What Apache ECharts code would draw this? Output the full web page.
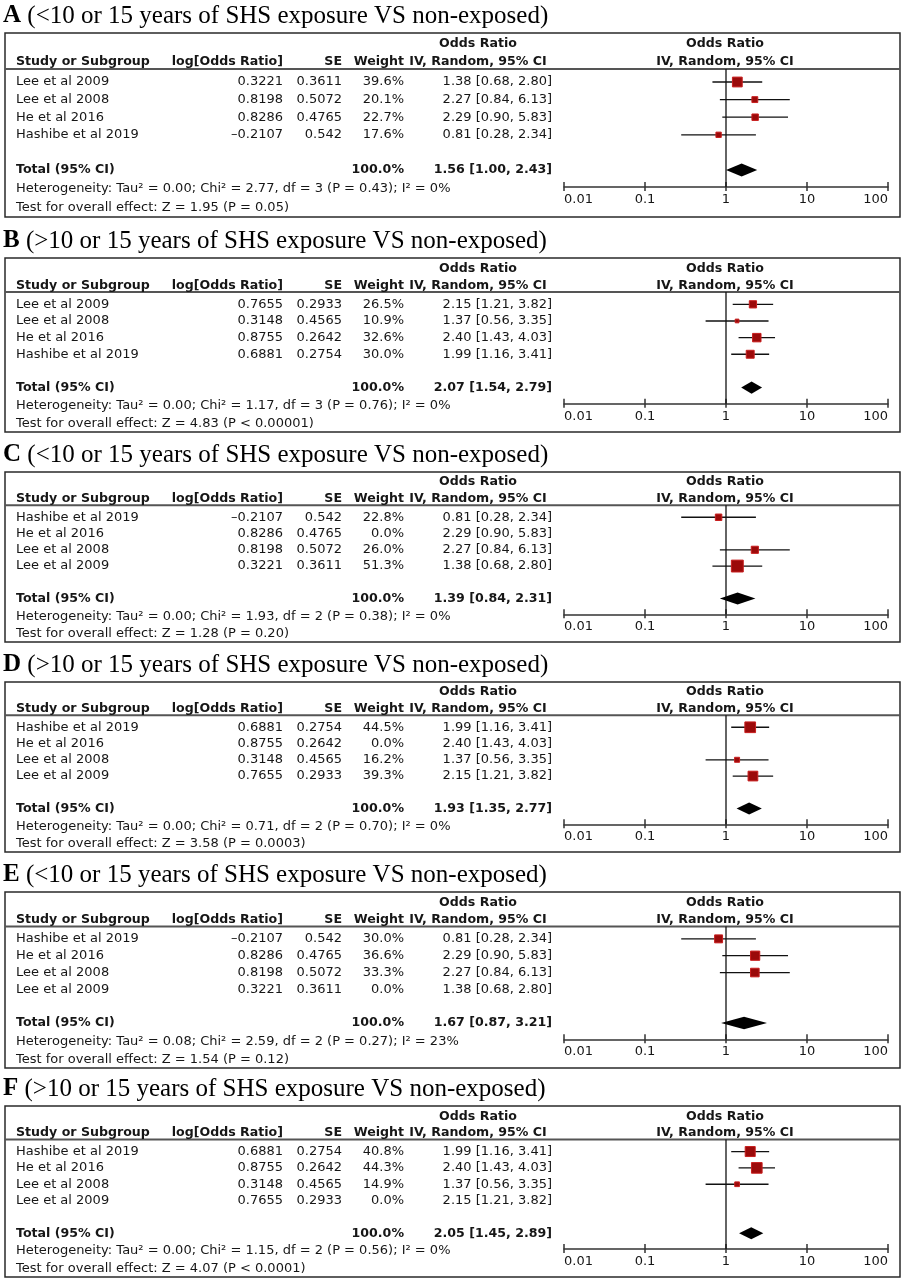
<!DOCTYPE html>
<html><head><meta charset="utf-8">
<script src="https://cdn.jsdelivr.net/npm/echarts@6/dist/echarts.min.js"></script>
<style>html,body{margin:0;padding:0;background:#fff}#c{width:905px;height:1280px}</style>
</head><body><div id="c"></div>
<script>
// ---------- DATA ----------
const panelLetters = ['A','B','C','D','E','F'];
const panelTitles = [
  '(<10 or 15 years of SHS exposure VS non-exposed)',
  '(>10 or 15 years of SHS exposure VS non-exposed)',
  '(<10 or 15 years of SHS exposure VS non-exposed)',
  '(>10 or 15 years of SHS exposure VS non-exposed)',
  '(<10 or 15 years of SHS exposure VS non-exposed)',
  '(>10 or 15 years of SHS exposure VS non-exposed)'
];

const studiesA = ['Lee et al 2009','Lee et al 2008','He et al 2016','Hashibe et al 2019'];
const logOrA = [0.3221, 0.8198, 0.8286, -0.2107];
const seA = [0.3611, 0.5072, 0.4765, 0.542];
const weightA = [39.6, 20.1, 22.7, 17.6];
const orA = [1.38, 2.27, 2.29, 0.81];
const loA = [0.68, 0.84, 0.90, 0.28];
const hiA = [2.80, 6.13, 5.83, 2.34];

const studiesB = ['Lee et al 2009','Lee et al 2008','He et al 2016','Hashibe et al 2019'];
const logOrB = [0.7655, 0.3148, 0.8755, 0.6881];
const seB = [0.2933, 0.4565, 0.2642, 0.2754];
const weightB = [26.5, 10.9, 32.6, 30.0];
const orB = [2.15, 1.37, 2.40, 1.99];
const loB = [1.21, 0.56, 1.43, 1.16];
const hiB = [3.82, 3.35, 4.03, 3.41];

const studiesC = ['Hashibe et al 2019','He et al 2016','Lee et al 2008','Lee et al 2009'];
const logOrC = [-0.2107, 0.8286, 0.8198, 0.3221];
const seC = [0.542, 0.4765, 0.5072, 0.3611];
const weightC = [22.8, 0.0, 26.0, 51.3];
const orC = [0.81, 2.29, 2.27, 1.38];
const loC = [0.28, 0.90, 0.84, 0.68];
const hiC = [2.34, 5.83, 6.13, 2.80];

const studiesD = ['Hashibe et al 2019','He et al 2016','Lee et al 2008','Lee et al 2009'];
const logOrD = [0.6881, 0.8755, 0.3148, 0.7655];
const seD = [0.2754, 0.2642, 0.4565, 0.2933];
const weightD = [44.5, 0.0, 16.2, 39.3];
const orD = [1.99, 2.40, 1.37, 2.15];
const loD = [1.16, 1.43, 0.56, 1.21];
const hiD = [3.41, 4.03, 3.35, 3.82];

const studiesE = ['Hashibe et al 2019','He et al 2016','Lee et al 2008','Lee et al 2009'];
const logOrE = [-0.2107, 0.8286, 0.8198, 0.3221];
const seE = [0.542, 0.4765, 0.5072, 0.3611];
const weightE = [30.0, 36.6, 33.3, 0.0];
const orE = [0.81, 2.29, 2.27, 1.38];
const loE = [0.28, 0.90, 0.84, 0.68];
const hiE = [2.34, 5.83, 6.13, 2.80];

const studiesF = ['Hashibe et al 2019','He et al 2016','Lee et al 2008','Lee et al 2009'];
const logOrF = [0.6881, 0.8755, 0.3148, 0.7655];
const seF = [0.2754, 0.2642, 0.4565, 0.2933];
const weightF = [40.8, 44.3, 14.9, 0.0];
const orF = [1.99, 2.40, 1.37, 2.15];
const loF = [1.16, 1.43, 0.56, 1.21];
const hiF = [3.41, 4.03, 3.35, 3.82];

const totalOr = [1.56, 2.07, 1.39, 1.93, 1.67, 2.05];
const totalLo = [1.00, 1.54, 0.84, 1.35, 0.87, 1.45];
const totalHi = [2.43, 2.79, 2.31, 2.77, 3.21, 2.89];
const tau2 = ['0.00','0.00','0.00','0.00','0.08','0.00'];
const chi2 = ['2.77','1.17','1.93','0.71','2.59','1.15'];
const dfs = ['3','3','2','2','2','2'];
const hetP = ['0.43','0.76','0.38','0.70','0.27','0.56'];
const i2 = ['0%','0%','0%','0%','23%','0%'];
const zVal = ['1.95','4.83','1.28','3.58','1.54','4.07'];
const zP = ['= 0.05','< 0.00001','= 0.20','= 0.0003','= 0.12','< 0.0001'];
const tickLabels = ['0.01','0.1','1','10','100'];

const panels = [
  [studiesA, logOrA, seA, weightA, orA, loA, hiA],
  [studiesB, logOrB, seB, weightB, orB, loB, hiB],
  [studiesC, logOrC, seC, weightC, orC, loC, hiC],
  [studiesD, logOrD, seD, weightD, orD, loD, hiD],
  [studiesE, logOrE, seE, weightE, orE, loE, hiE],
  [studiesF, logOrF, seF, weightF, orF, loF, hiF]
];

// ---------- LAYOUT ----------
const boxTop = [33, 258, 472, 682, 892, 1106];
const boxH = [184, 174, 170, 170, 176, 171];
const L = {orHead: 11, head: 29, rule: 36, row0: 49, pitch: 17.6, axis: 154, het: 156, test: 175, title: -17};
const BOX_L = 5, BOX_R = 900;
const PLOT_L = 564, PLOT_R = 888;
const X = {study: 16, logOr: 283, se: 342, weight: 404, ci: 552, ciHead: 478, plotHead: 725};
const SANS = '"DejaVu Sans", Verdana, sans-serif';
const SERIF = '"Liberation Serif", "Times New Roman", serif';
const TXT = '#161616';
const FS = 13, FSB = 12.6;
const TOTAL_ROW = 5;
const yMin = (L.rule - L.row0) / L.pitch;
const yMax = (L.axis - L.row0) / L.pitch;

const fmtNum = v => String(v).replace('-', '\u2013');
const f2 = v => v.toFixed(2);

const graphics = [];
const grids = [], xAxes = [], yAxes = [], series = [];

function T(text, x, y, align, bold) {
  graphics.push({
    type: 'text', x: x, y: y, silent: true,
    style: {
      text: text, fill: TXT, align: align || 'left', verticalAlign: 'middle',
      font: (bold ? 'bold ' + FSB : FS) + 'px ' + SANS
    }
  });
}

panels.forEach((p, k) => {
  const [studies, logOr, se, weight, or, lo, hi] = p;
  const top = boxTop[k], s = boxH[k] / 184;
  const Y = v => top + v * s;
  const rowY = i => Y(L.row0 + i * L.pitch);

  graphics.push({type: 'rect', silent: true, shape: {x: BOX_L, y: top, width: BOX_R - BOX_L, height: boxH[k]},
    style: {fill: 'transparent', stroke: '#2a2a2a', lineWidth: 1.5}});
  graphics.push({type: 'line', silent: true, shape: {x1: BOX_L, y1: Y(L.rule), x2: BOX_R, y2: Y(L.rule)},
    style: {stroke: '#555', lineWidth: 2}});

  graphics.push({type: 'text', x: 3, y: top + L.title, silent: true,
    style: {text: '{b|' + panelLetters[k] + '} ' + panelTitles[k], verticalAlign: 'middle', fill: '#000',
      font: '25px ' + SERIF,
      rich: {b: {font: 'bold 25px ' + SERIF, fill: '#000'}}}});

  // headers
  T('Odds Ratio', X.ciHead, Y(L.orHead), 'center', true);
  T('Odds Ratio', X.plotHead, Y(L.orHead), 'center', true);
  T('Study or Subgroup', X.study, Y(L.head), 'left', true);
  T('log[Odds Ratio]', X.logOr, Y(L.head), 'right', true);
  T('SE', X.se, Y(L.head), 'right', true);
  T('Weight', X.weight, Y(L.head), 'right', true);
  T('IV, Random, 95% CI', X.ciHead, Y(L.head), 'center', true);
  T('IV, Random, 95% CI', X.plotHead, Y(L.head), 'center', true);

  studies.forEach((st, i) => {
    const y = rowY(i);
    T(st, X.study, y, 'left');
    T(fmtNum(logOr[i]), X.logOr, y, 'right');
    T(String(se[i]), X.se, y, 'right');
    T(weight[i].toFixed(1) + '%', X.weight, y, 'right');
    T(f2(or[i]) + ' [' + f2(lo[i]) + ', ' + f2(hi[i]) + ']', X.ci, y, 'right');
  });
  const ty = rowY(TOTAL_ROW);
  T('Total (95% CI)', X.study, ty, 'left', true);
  T('100.0%', X.weight, ty, 'right', true);
  T(f2(totalOr[k]) + ' [' + f2(totalLo[k]) + ', ' + f2(totalHi[k]) + ']', X.ci, ty, 'right', true);
  T('Heterogeneity: Tau\u00b2 = ' + tau2[k] + '; Chi\u00b2 = ' + chi2[k] + ', df = ' + dfs[k] +
    ' (P = ' + hetP[k] + '); I\u00b2 = ' + i2[k], X.study, Y(L.het), 'left');
  T('Test for overall effect: Z = ' + zVal[k] + ' (P ' + zP[k] + ')', X.study, Y(L.test), 'left');

  // plot grid
  grids.push({left: PLOT_L, width: PLOT_R - PLOT_L, top: Y(L.rule), height: (L.axis - L.rule) * s, containLabel: false});
  const axBase = {
    type: 'log', logBase: 10, gridIndex: k, min: 0.01, max: 100, position: 'bottom',
    splitLine: {show: false}, minorTick: {show: false}
  };
  xAxes.push(Object.assign({}, axBase, {
    axisLine: {show: true, onZero: false, lineStyle: {color: '#333', width: 1.5}},
    axisTick: {show: true, inside: true, length: 5, lineStyle: {color: '#333', width: 1.5}},
    axisLabel: {show: true, margin: 6, color: TXT, fontFamily: SANS, fontSize: FS,
      showMinLabel: true, showMaxLabel: true, alignMinLabel: 'left', alignMaxLabel: 'right',
      formatter: v => { const idx = Math.round(Math.log10(v)) + 2; return tickLabels[idx] || ''; }}
  }));
  xAxes.push(Object.assign({}, axBase, {
    axisLine: {show: false, onZero: false},
    axisTick: {show: true, inside: false, length: 4, lineStyle: {color: '#333', width: 1.5}},
    axisLabel: {show: false}
  }));
  yAxes.push({type: 'value', gridIndex: k, inverse: true, min: yMin, max: yMax, show: false});

  const xi = k * 2;
  // line of no effect
  series.push({
    type: 'custom', xAxisIndex: xi, yAxisIndex: k, silent: true, z: 1,
    data: [[1, yMin, yMax]], encode: {x: 0, y: 1},
    renderItem: (params, api) => {
      const a = api.coord([api.value(0), api.value(1)]);
      const b = api.coord([api.value(0), api.value(2)]);
      return {type: 'line', shape: {x1: a[0], y1: a[1], x2: b[0], y2: b[1]}, style: {stroke: '#111', lineWidth: 1.3}};
    }
  });
  // studies
  series.push({
    type: 'custom', xAxisIndex: xi, yAxisIndex: k, silent: true, z: 3,
    data: studies.map((_, i) => [i, or[i], lo[i], hi[i], weight[i]]),
    encode: {x: [1, 2, 3], y: 0},
    renderItem: (params, api) => {
      const row = api.value(0), w = api.value(4);
      if (!(w > 0)) return {type: 'group', children: []};
      const c = api.coord([api.value(1), row]);
      const a = api.coord([api.value(2), row]);
      const b = api.coord([api.value(3), row]);
      const sz = Math.max(3, 0.62 * Math.pow(w, 0.75));
      return {type: 'group', children: [
        {type: 'line', shape: {x1: a[0], y1: a[1], x2: b[0], y2: b[1]}, style: {stroke: '#111', lineWidth: 1.3}},
        {type: 'rect', shape: {x: c[0] - sz / 2, y: c[1] - sz / 2, width: sz, height: sz},
          style: {fill: '#9b0a0a', stroke: '#c81e1e', lineWidth: 1}}
      ]};
    }
  });
  // total diamond
  series.push({
    type: 'custom', xAxisIndex: xi, yAxisIndex: k, silent: true, z: 3,
    data: [[TOTAL_ROW, totalOr[k], totalLo[k], totalHi[k]]],
    encode: {x: [1, 2, 3], y: 0},
    renderItem: (params, api) => {
      const row = api.value(0);
      const c = api.coord([api.value(1), row]);
      const a = api.coord([api.value(2), row]);
      const b = api.coord([api.value(3), row]);
      const h = 6.5 * s;
      return {type: 'polygon', shape: {points: [[a[0], c[1]], [c[0], c[1] - h], [b[0], c[1]], [c[0], c[1] + h]]},
        style: {fill: '#000'}};
    }
  });
});

const chart = echarts.init(document.getElementById('c'), null, {renderer: 'canvas'});
chart.setOption({
  animation: false,
  backgroundColor: '#fff',
  grid: grids, xAxis: xAxes, yAxis: yAxes, series: series,
  graphic: {elements: graphics}
});
</script>
</body></html>
